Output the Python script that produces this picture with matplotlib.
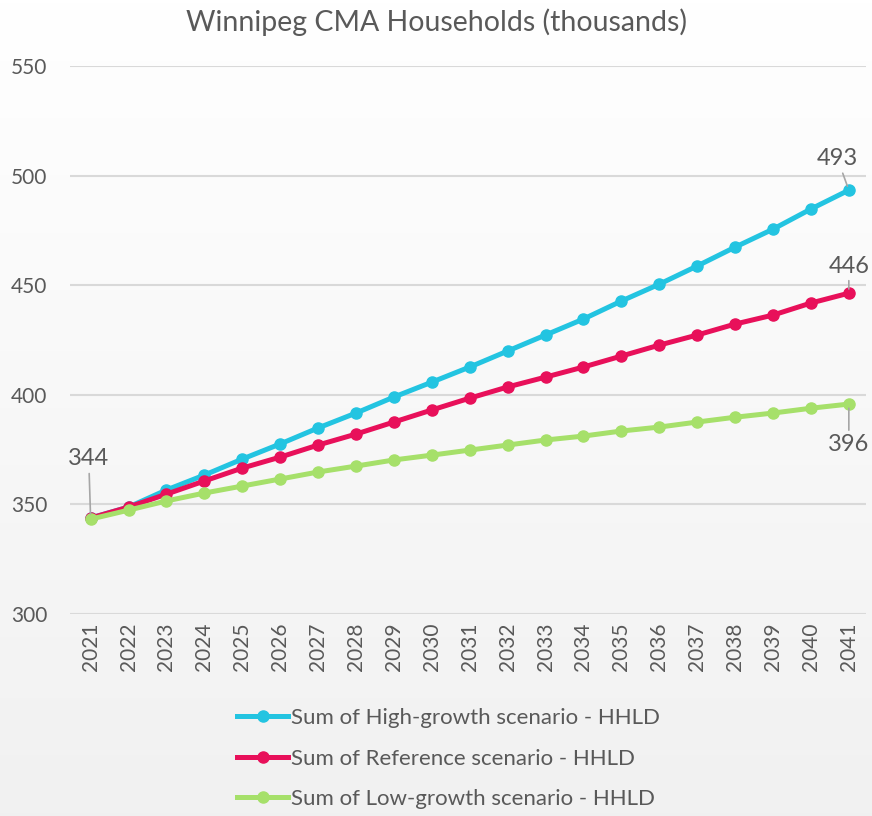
import numpy as np
import matplotlib.pyplot as plt
from matplotlib.lines import Line2D

plt.rcParams['font.family'] = ['Lato', 'DejaVu Sans']

years = [str(y) for y in range(2021, 2042)]
high = [343.8, 348.8, 356.6, 363.4, 370.7, 377.6, 384.9, 391.7, 399.0, 405.8, 412.7,
        420.0, 427.3, 434.6, 442.8, 450.5, 458.8, 467.4, 475.6, 484.8, 493.4]
ref = [343.8, 348.8, 354.7, 360.7, 366.6, 371.6, 377.1, 382.1, 387.6, 393.1, 398.5,
       403.6, 408.1, 412.7, 417.7, 422.7, 427.3, 432.3, 436.4, 441.9, 446.4]
low = [343.3, 347.4, 351.6, 355.2, 358.4, 361.6, 364.8, 367.5, 370.3, 372.5, 374.8,
       377.1, 379.4, 381.2, 383.5, 385.3, 387.6, 389.8, 391.7, 393.9, 395.8]
labels = ['Sum of High-growth scenario - HHLD',
          'Sum of Reference scenario - HHLD',
          'Sum of Low-growth scenario - HHLD']
colors = ['#23c4e1', '#e8105a', '#a6e06a']
grey = '#595959'

fig = plt.figure(figsize=(8.72, 8.16), dpi=100)

# background gradient, white at top to light grey at bottom
bg = fig.add_axes([0, 0, 1, 1], zorder=-10)
grad = np.linspace(1.0, 0.945, 256).reshape(-1, 1)
bg.imshow(np.dstack([grad, grad, grad]), aspect='auto', extent=[0, 1, 0, 1])
bg.axis('off')

ax = fig.add_axes([0.080, 0.2475, 0.913, 0.6715])
ax.patch.set_alpha(0)
x = np.arange(len(years))
for vals, c, lb in zip([high, ref, low], colors, labels):
    ax.plot(x, vals, color=c, lw=3.6, marker='o', ms=8, label=lb, zorder=3)

ax.set_xlim(-0.55, 20.45)
ax.set_ylim(300, 550)
ax.set_yticks([300, 350, 400, 450, 500, 550])
ax.set_xticks(x)
ax.set_xticklabels(years, rotation=90)
ax.tick_params(length=0, colors=grey, labelsize=15)
ax.tick_params(axis='y', pad=16)
ax.tick_params(axis='x', pad=6)
ax.grid(axis='y', color='#d9d9d9', lw=1.5)
for s in ax.spines.values():
    s.set_visible(False)

fig.text(0.5, 0.973, 'Winnipeg CMA Households (thousands)', ha='center', va='center',
         fontsize=20.5, color=grey)

# data labels
ann = dict(color=grey, fontsize=17, ha='center')
lp = dict(arrowstyle='-', color='#a6a6a6', lw=1.2, shrinkA=1, shrinkB=3)
ax.annotate('344', xy=(0, ref[0]), xytext=(-0.05, 366), va='bottom', arrowprops=lp, **ann)
ax.annotate('493', xy=(20, high[-1]), xytext=(19.7, 503), va='bottom', arrowprops=lp, **ann)
ax.annotate('446', xy=(20, ref[-1]), xytext=(20.0, 454), va='bottom', arrowprops=lp, **ann)
ax.annotate('396', xy=(20, low[-1]), xytext=(20.0, 382), va='top', arrowprops=lp, **ann)

handles = [Line2D([], [], color=c, lw=3.6, marker='o', ms=8) for c in colors]
leg = fig.legend(handles, labels, loc='upper left', bbox_to_anchor=(0.262, 0.143),
                 frameon=False, fontsize=16, labelcolor=grey, handlelength=2.3,
                 handletextpad=0.1, labelspacing=0.92, borderaxespad=0)

fig.savefig('out.png', dpi=100)
